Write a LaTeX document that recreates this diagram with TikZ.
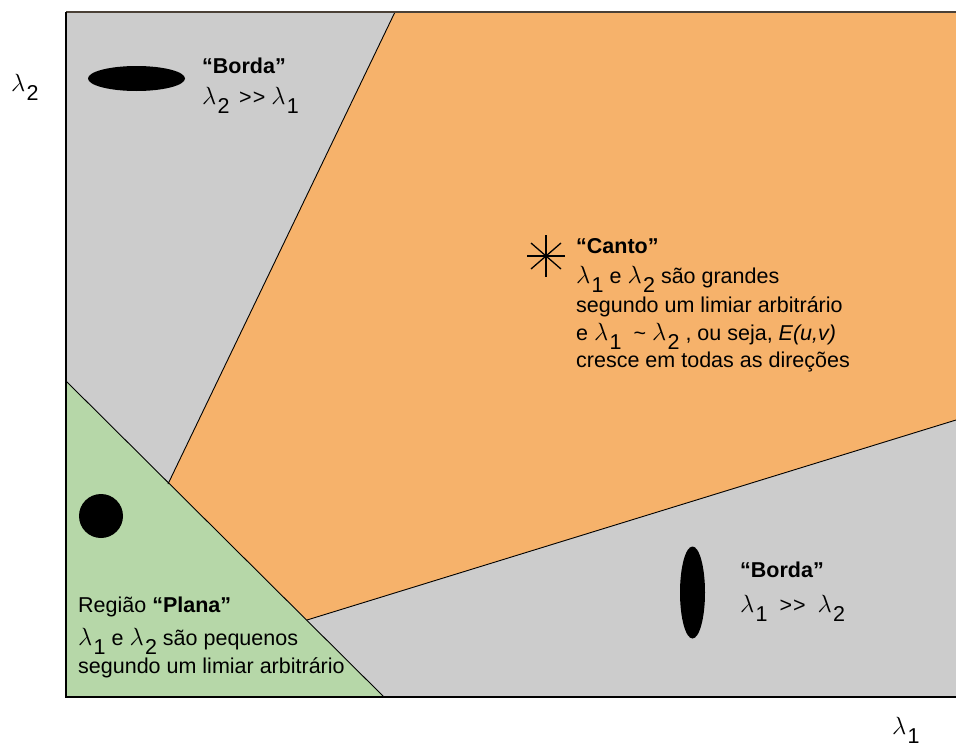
\documentclass[tikz,border=0pt]{standalone}
\usepackage{fontspec}
\setmainfont{Liberation Sans}
\usepackage{xcolor}
\definecolor{cinza}{HTML}{CCCCCC}
\definecolor{laranja}{HTML}{F6B26B}
\definecolor{verde}{HTML}{B6D7A8}
\definecolor{moldura}{HTML}{4A4036}
\newcommand{\lam}[1]{{\fontsize{24}{24}\selectfont$\lambda$}\kern0.06em\raisebox{-0.42em}{#1}}
\newcommand{\eixo}[1]{{\fontsize{31}{31}\selectfont$\lambda$}\kern0.06em\raisebox{-0.42em}{#1}}
\newcommand{\muito}{{>}\kern0.05em{>}}

\begin{document}
\begin{tikzpicture}[x=1pt,y=-1pt,
    rotulo/.style={anchor=base west,inner sep=0pt,font=\fontsize{21.5}{26}\selectfont},
    titulo/.style={rotulo,font=\fontsize{21.5}{26}\selectfont\bfseries}]
    \useasboundingbox (0,0) rectangle (956,747);
    \fill[cinza] (66,12) rectangle (956,697);
    \fill[laranja] (395,12) -- (956,12) -- (956,420) -- (307,620) -- (168,484) -- cycle;
    \fill[verde] (66,381) -- (384,697) -- (66,697) -- cycle;
    \draw[line width=0.9pt] (66,381) -- (384,697);
    \draw[line width=0.9pt] (168,484) -- (395,12);
    \draw[line width=0.9pt] (307,620) -- (956,420);
    \draw[moldura,line width=2pt] (66,12) -- (956,12);
    \draw[line width=1.4pt] (66,12) -- (66,697) -- (956,697);
    % borda vertical
    \fill (136.5,78.5) ellipse [x radius=48.5pt,y radius=12.5pt];
    \node[titulo] (bordaA) at (202,73) {“Borda”};
    \node[rotulo] (bordaAeq) at (202,104) {\lam{2} \,\muito\ \lam{1}};
    % canto
    \draw[line width=1.3pt] (527,256) -- (565,256);
    \draw[line width=1.3pt] (546,235) -- (546,277);
    \draw[line width=1.3pt] (531,243) -- (561,269);
    \draw[line width=1.3pt] (531,269) -- (561,243);
    \node[titulo] (canto) at (576,253) {“Canto”};
    \node[rotulo] (cantoA) at (576,283) {\lam{1} e \lam{2} são grandes};
    \node[rotulo] (cantoB) at (576,312) {segundo um limiar arbitrário};
    \node[rotulo] (cantoC) at (576,340) {e \lam{1} \ \textasciitilde\ \lam{2} , ou seja, \textit{E(u,v)}};
    \node[rotulo] (cantoD) at (576,367) {cresce em todas as direções};
    % plana
    \fill (101,516) circle [radius=22pt];
    \node[rotulo] (plana) at (78,612) {Região \textbf{“Plana”}};
    \node[rotulo] (planaA) at (78,645) {\lam{1} e \lam{2} são pequenos};
    \node[rotulo] (planaB) at (78,673) {segundo um limiar arbitrário};
    % borda horizontal
    \fill (692.5,592.5) ellipse [x radius=12.5pt,y radius=46pt];
    \node[titulo] (bordaB) at (740,577) {“Borda”};
    \node[rotulo] (bordaBeq) at (740,612) {\lam{1} \ \muito\ \ \lam{2}};
    % eixos
    \node[rotulo] (eixoY) at (11,91) {\eixo{2}};
    \node[rotulo] (eixoX) at (892,734) {\eixo{1}};
\end{tikzpicture}
\end{document}
